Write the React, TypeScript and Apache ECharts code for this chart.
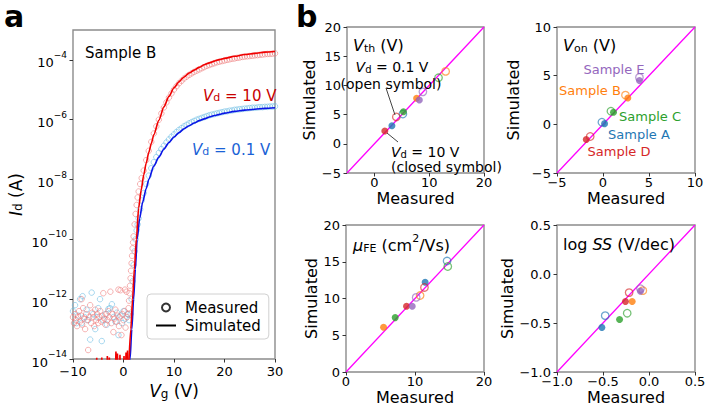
import React, { useEffect, useRef } from "react";
import * as echarts from "echarts";

const FONT = "DejaVu Sans";
const MINUS = "\u2212";

// ---------------- Panel a : transfer curves (Vg [V], log10 Id [A]) ----------------
const vgTicks = [-10, 0, 10, 20, 30];
const idTickExps = [-14, -12, -10, -8, -6, -4];

// simulated, Vd = 10 V
const simVd10: [number, number][] = [
  [1.1, -14], [1.45, -13], [1.8, -12], [2.15, -11], [2.55, -10], [3.0, -8.95], [3.5, -8.35],
  [4.0, -7.85], [4.5, -7.45], [5.0, -7.1], [5.5, -6.8], [6.0, -6.5], [7.0, -6.02], [8.0, -5.57],
  [9.0, -5.22], [10, -4.93], [11, -4.73], [12, -4.57], [13, -4.44], [14, -4.34], [15, -4.25],
  [16, -4.16], [17, -4.1], [18, -4.04], [19, -3.99], [20, -3.95], [22, -3.88], [24, -3.82],
  [26, -3.78], [28, -3.74], [30, -3.72],
];
// simulated, Vd = 10 V, numerical floor below the turn-on (spikes at the axis bottom)
const simVd10Floor: [number, number][] = [
  [-10, -14.5], [-5.4, -14.5], [-5.3, -13.96], [-5.2, -14.5], [-4.4, -14.5], [-4.3, -13.95],
  [-4.2, -14.5], [-3.3, -14.5], [-3.2, -13.9], [-3.1, -14.5], [-2.9, -14.5], [-2.8, -13.95],
  [-2.7, -14.5], [-1.6, -14.5], [-1.5, -13.75], [-1.4, -14.5], [-1.3, -14.5], [-1.2, -13.82],
  [-1.1, -14.5], [-0.8, -14.5], [-0.7, -13.86], [-0.6, -14.5], [0.0, -14.5], [0.1, -13.9],
  [0.2, -14.5], [0.4, -14.5], [0.5, -13.78], [0.6, -14.5], [0.7, -14.5], [0.8, -13.72],
  [0.9, -14.3], [1.1, -14],
];
// simulated, Vd = 0.1 V
const simVd01: [number, number][] = [
  [1.0, -14.5], [1.3, -14], [1.65, -13], [2.0, -12], [2.35, -11], [2.7, -10], [3.2, -9.3],
  [3.8, -8.75], [4.5, -8.3], [5.0, -8.0], [6.0, -7.55], [7.0, -7.25], [8.0, -6.98], [9.0, -6.76],
  [10, -6.58], [11, -6.43], [12, -6.3], [13, -6.2], [14, -6.11], [15, -6.03], [16, -5.97],
  [17, -5.91], [18, -5.86], [19, -5.82], [20, -5.78], [22, -5.72], [24, -5.68], [26, -5.65],
  [28, -5.62], [30, -5.6],
];
// measured, Vd = 10 V
const measVd10: [number, number][] = [
  [-10, -12.6], [-9.8, -12.8], [-9.6, -12.5], [-9.4, -12.7], [-9.2, -12.9], [-9.0, -12.6],
  [-8.8, -12.4], [-8.6, -12.75], [-8.4, -12.55], [-8.3, -12.0], [-8.2, -12.85], [-8.0, -12.3],
  [-7.8, -12.65], [-7.6, -13.0], [-7.4, -12.5], [-7.2, -12.7], [-7.0, -13.7], [-6.8, -12.6],
  [-6.6, -12.2], [-6.4, -12.8], [-6.2, -12.45], [-6.0, -12.6], [-5.8, -12.9], [-5.6, -12.35],
  [-5.4, -12.7], [-5.2, -12.5], [-5.0, -12.8], [-4.8, -12.6], [-4.6, -12.4], [-4.4, -12.75],
  [-4.2, -12.55], [-4.0, -11.8], [-3.8, -12.65], [-3.6, -12.85], [-3.4, -12.5], [-3.2, -12.7],
  [-3.0, -12.4], [-2.8, -12.6], [-2.6, -11.75], [-2.4, -12.8], [-2.2, -12.5], [-2.0, -13.1],
  [-1.8, -12.65], [-1.6, -12.35], [-1.4, -12.75], [-1.2, -12.55], [-1.0, -11.68], [-0.9, -12.9],
  [-0.8, -12.6], [-0.6, -11.7], [-0.4, -13.2], [-0.2, -12.5], [0.0, -12.7], [0.2, -12.4],
  [0.3, -11.68], [0.4, -12.95], [0.6, -11.75], [0.7, -12.6],
  [0.9, -12.5], [1.0, -12.3], [1.1, -12.05], [1.2, -11.8], [1.3, -11.55], [1.4, -11.3],
  [1.5, -11.05], [1.6, -10.8], [1.7, -10.55], [1.8, -10.3], [1.9, -10.1], [2.0, -9.9],
  [2.2, -9.5], [2.4, -9.15], [2.6, -8.85], [2.8, -8.6], [3.0, -8.4], [3.3, -8.15], [3.6, -7.95],
  [4.0, -7.7], [4.5, -7.35], [5.0, -7.04], [5.5, -6.74], [6.0, -6.46], [6.5, -6.22], [7.0, -6.0],
  [7.5, -5.79], [8.0, -5.59], [8.5, -5.42], [9.0, -5.26], [9.5, -5.12], [10, -4.99],
  [10.5, -4.88], [11, -4.78], [11.5, -4.7], [12, -4.62], [12.5, -4.56], [13, -4.5],
  [13.5, -4.45], [14, -4.4], [14.5, -4.36], [15, -4.32], [15.5, -4.28], [16, -4.24],
  [16.5, -4.2], [17, -4.17], [17.5, -4.14], [18, -4.11], [18.5, -4.08], [19, -4.06],
  [19.5, -4.04], [20, -4.02], [20.5, -4.0], [21, -3.98], [21.5, -3.96], [22, -3.95],
  [22.5, -3.93], [23, -3.92], [23.5, -3.9], [24, -3.89], [24.5, -3.88], [25, -3.87],
  [25.5, -3.86], [26, -3.85], [26.5, -3.84], [27, -3.83], [27.5, -3.82], [28, -3.81],
  [28.5, -3.8], [29, -3.8], [29.5, -3.79], [30, -3.78],
];
// measured, Vd = 0.1 V
const measVd01: [number, number][] = [
  [-10, -12.4], [-9.6, -12.2], [-9.3, -12.8], [-9.0, -12.55], [-8.6, -12.0], [-8.3, -12.8],
  [-8.1, -11.9], [-7.7, -12.6], [-7.3, -12.35], [-7.0, -12.7], [-6.6, -13.35], [-6.3, -11.78],
  [-6.0, -12.5], [-5.6, -13.0], [-5.3, -12.6], [-5.0, -12.3], [-4.65, -12.0], [-4.3, -13.4],
  [-4.0, -12.7], [-3.6, -12.5], [-3.3, -12.85], [-3.0, -12.33], [-2.7, -12.3], [-2.3, -12.17],
  [-2.0, -12.6], [-1.6, -12.75], [-1.3, -12.45], [-1.0, -13.2], [-0.6, -12.55], [-0.3, -12.8],
  [0.0, -12.4], [0.4, -12.65], [0.8, -12.5], [1.1, -12.7],
  [1.4, -12.5], [1.6, -12.0], [1.8, -11.4], [2.0, -10.85], [2.2, -10.4], [2.4, -10.0],
  [2.6, -9.7], [2.8, -9.5], [3.0, -9.3], [3.3, -9.0], [3.6, -8.7],
  [4.0, -8.45], [4.5, -8.15], [5.0, -7.87], [5.5, -7.62], [6.0, -7.42], [6.5, -7.25], [7.0, -7.11],
  [7.5, -6.98], [8.0, -6.87], [8.5, -6.76], [9.0, -6.66], [9.5, -6.57], [10, -6.49],
  [10.5, -6.41], [11, -6.34], [11.5, -6.28], [12, -6.22], [12.5, -6.17], [13, -6.12],
  [13.5, -6.08], [14, -6.04], [14.5, -6.0], [15, -5.97], [15.5, -5.94], [16, -5.91],
  [16.5, -5.88], [17, -5.85], [17.5, -5.83], [18, -5.81], [18.5, -5.79], [19, -5.77],
  [19.5, -5.75], [20, -5.73], [20.5, -5.72], [21, -5.7], [21.5, -5.69], [22, -5.67],
  [22.5, -5.66], [23, -5.65], [23.5, -5.64], [24, -5.63], [24.5, -5.62], [25, -5.61],
  [25.5, -5.6], [26, -5.6], [26.5, -5.59], [27, -5.58], [27.5, -5.58], [28, -5.57],
  [28.5, -5.57], [29, -5.56], [29.5, -5.56], [30, -5.55],
];

// ---------------- Panel b : measured vs simulated parameters ----------------
const samples = ["A", "B", "C", "D", "E"];
const sampleColors = ["#1f77b4", "#ff7f0e", "#2ca02c", "#d62728", "#9467bd"];

// Vth (V)
const vthMeas10 = [3.2, 7.7, 5.3, 1.9, 8.2];
const vthSim10 = [3.1, 7.8, 5.5, 2.2, 7.5];
const vthMeas01 = [5.2, 13.0, 11.7, 4.0, 8.85];
const vthSim01 = [5.1, 12.4, 11.3, 4.6, 8.9];
// Von (V)
const vonMeas10 = [0.17, 2.7, 1.14, -1.82, 3.96];
const vonSim10 = [0.07, 2.7, 1.25, -1.55, 4.5];
const vonMeas01 = [-0.12, 2.44, 0.86, -1.39, 3.96];
const vonSim01 = [0.22, 3.0, 1.35, -1.25, 4.82];
// mu_FE (cm2/Vs)
const muMeas10 = [11.47, 5.44, 7.13, 8.77, 9.6];
const muSim10 = [12.2, 6.1, 7.4, 8.95, 8.95];
const muMeas01 = [14.65, 10.74, 14.75, 11.37, 10.17];
const muSim01 = [15.1, 10.4, 14.35, 11.5, 10.15];
// log SS (V/dec)
const ssMeas10 = [-0.512, -0.183, -0.32, -0.256, -0.093];
const ssSim10 = [-0.545, -0.28, -0.465, -0.28, -0.175];
const ssMeas01 = [-0.476, -0.067, -0.237, -0.216, -0.093];
const ssSim01 = [-0.425, -0.17, -0.4, -0.19, -0.15];

const vthRange = [-5, 20];
const vonRange = [-5, 10];
const muRange = [0, 20];
const ssRange = [-1, 0.5];

// ---------------------------------------------------------------------------
const toPts = (arr: [number, number][]) => arr.map(([v, l]) => [v, Math.pow(10, l)]);

const rich = (F: number, color = "#000") => {
  const L = Math.round(F * 1.3);
  const S = Math.round(F * 0.7);
  const base = { fontFamily: FONT, color, fill: color };
  return {
    n: { ...base, fontSize: F, lineHeight: L, verticalAlign: "bottom" },
    i: { ...base, fontSize: F, lineHeight: L, fontStyle: "italic", verticalAlign: "bottom" },
    s: { ...base, fontSize: S, lineHeight: S, verticalAlign: "bottom" },
    p: { ...base, fontSize: S, lineHeight: S, verticalAlign: "top" },
  };
};

const fmtNum = (v: number, dec = 0) => {
  let s = dec > 0 ? v.toFixed(dec) : String(Math.round(v));
  if (Math.abs(v) < 1e-9) s = dec > 0 ? (0).toFixed(dec) : "0";
  return s.replace("-", MINUS);
};

const TICK = { show: true, length: 3.5, lineStyle: { color: "#333", width: 1 } };
const LABEL = { fontFamily: FONT, fontSize: 13, color: "#000" };
const NOLINE = { show: false, onZero: false };

function bAxes(gi: number, range: number[], interval: number, xCustom: number[] | null, yCustom: number[] | null, dec: number, yGap: number) {
  const common = {
    gridIndex: gi,
    type: "value",
    min: range[0],
    max: range[1],
    interval,
    axisLine: NOLINE,
    splitLine: { show: false },
    nameLocation: "middle",
  };
  const x: any = {
    ...common,
    name: "Measured",
    nameGap: 17,
    nameTextStyle: { fontFamily: FONT, fontSize: 16, lineHeight: 16, color: "#000" },
    axisTick: { ...TICK, ...(xCustom ? { customValues: xCustom } : {}) },
    axisLabel: { ...LABEL, margin: 3, lineHeight: 12, formatter: (v: number) => fmtNum(v, dec), ...(xCustom ? { customValues: xCustom } : {}) },
  };
  const y: any = {
    ...common,
    name: "Simulated",
    nameGap: yGap,
    nameTextStyle: { fontFamily: FONT, fontSize: 16, color: "#000" },
    axisTick: { ...TICK, ...(yCustom ? { customValues: yCustom } : {}) },
    axisLabel: { ...LABEL, margin: 6, lineHeight: 11, formatter: (v: number) => fmtNum(v, dec), ...(yCustom ? { customValues: yCustom } : {}) },
  };
  return { x, y };
}

function bSeries(gi: number, range: number[], m10: number[], s10: number[], m01: number[], s01: number[]) {
  const data: any[] = [];
  samples.forEach((_, k) => {
    data.push({ value: [m10[k], s10[k]], symbolSize: 7, itemStyle: { color: sampleColors[k] } });
    data.push({
      value: [m01[k], s01[k]],
      symbolSize: 7.5,
      itemStyle: { color: "rgba(0,0,0,0)", borderColor: sampleColors[k], borderWidth: 1.3, opacity: 0.65 },
    });
  });
  return [
    {
      type: "line",
      xAxisIndex: gi,
      yAxisIndex: gi,
      data: [[range[0], range[0]], [range[1], range[1]]],
      symbol: "none",
      lineStyle: { color: "#ff00ff", width: 1.3 },
      z: 2,
      silent: true,
    },
    { type: "scatter", xAxisIndex: gi, yAxisIndex: gi, symbol: "circle", data, z: 3, silent: true },
  ];
}

function txt(x: number, y: number, text: string, F: number, color = "#000", align = "left", extra: any = {}) {
  return {
    type: "text",
    x,
    y,
    z: 100,
    style: { text, rich: rich(F, color), fill: color, font: `${F}px '${FONT}'`, align, verticalAlign: "middle", ...extra },
  };
}

export default function App() {
  const ref = useRef<HTMLDivElement>(null);
  useEffect(() => {
    document.body.style.margin = "0";
    if (!ref.current) return;
    const chart = echarts.init(ref.current, undefined, { renderer: "svg" });

    const idTicks = idTickExps.map((e) => Math.pow(10, e));
    const grids = [
      { left: 73, top: 30, width: 202, height: 329 },
      { left: 347, top: 27, width: 137, height: 146 },
      { left: 557, top: 27, width: 138, height: 146 },
      { left: 346, top: 225, width: 138, height: 147 },
      { left: 557, top: 225, width: 138, height: 147 },
    ].map((g) => ({ ...g, show: true, borderColor: "#8c8c8c", borderWidth: 1.4, backgroundColor: "transparent", containLabel: false, outerBoundsMode: "none" }));

    const aX: any = {
      gridIndex: 0,
      type: "value",
      min: vgTicks[0],
      max: vgTicks[vgTicks.length - 1],
      interval: 10,
      axisLine: NOLINE,
      splitLine: { show: false },
      axisTick: TICK,
      axisLabel: { ...LABEL, margin: 6, formatter: (v: number) => fmtNum(v) },
      name: "{i|V}{s|g}{n| (V)}",
      nameLocation: "middle",
      nameGap: 14,
      nameTextStyle: { rich: rich(17) },
    };
    const aY: any = {
      gridIndex: 0,
      type: "log",
      logBase: 10,
      min: idTicks[0],
      max: 1e-3,
      axisLine: NOLINE,
      splitLine: { show: false },
      axisTick: { ...TICK, customValues: idTicks },
      axisLabel: {
        margin: 6,
        customValues: idTicks,
        formatter: (v: number) => {
          const e = Math.round(Math.log10(v));
          return `{b|10}{e|${e < 0 ? MINUS : ""}${Math.abs(e)}}`;
        },
        rich: {
          b: { fontFamily: FONT, fontSize: 13, lineHeight: 19, verticalAlign: "bottom", color: "#000" },
          e: { fontFamily: FONT, fontSize: 9, lineHeight: 9, verticalAlign: "top", color: "#000" },
        },
      },
      name: "{i|I}{s|d}{n| (A)}",
      nameLocation: "middle",
      nameGap: 49,
      nameTextStyle: { rich: rich(17) },
    };

    const ax1 = bAxes(1, vthRange, 5, [0, 10, 20], null, 0, 25);
    const ax2 = bAxes(2, vonRange, 5, null, null, 0, 36);
    const ax3 = bAxes(3, muRange, 5, [0, 10, 20], null, 0, 22);
    const ax4 = bAxes(4, ssRange, 0.5, null, null, 1, 36);

    const series: any[] = [
      {
        name: "meas01",
        type: "scatter",
        xAxisIndex: 0,
        yAxisIndex: 0,
        data: toPts(measVd01),
        symbol: "circle",
        symbolSize: 5.5,
        itemStyle: { color: "rgba(0,0,0,0)", borderColor: "rgba(110,190,228,0.75)", borderWidth: 1 },
        silent: true,
        z: 2,
      },
      {
        name: "meas10",
        type: "scatter",
        xAxisIndex: 0,
        yAxisIndex: 0,
        data: toPts(measVd10),
        symbol: "circle",
        symbolSize: 5.5,
        itemStyle: { color: "rgba(0,0,0,0)", borderColor: "rgba(238,120,120,0.7)", borderWidth: 1 },
        silent: true,
        z: 3,
      },
      {
        name: "sim01",
        type: "line",
        xAxisIndex: 0,
        yAxisIndex: 0,
        data: toPts(simVd01),
        symbol: "none",
        smooth: 0.25,
        smoothMonotone: "x",
        lineStyle: { color: "#0a14e6", width: 1.6 },
        silent: true,
        z: 4,
      },
      {
        name: "sim10floor",
        type: "line",
        xAxisIndex: 0,
        yAxisIndex: 0,
        data: toPts(simVd10Floor),
        symbol: "none",
        lineStyle: { color: "#f00000", width: 1.6 },
        silent: true,
        z: 4,
      },
      {
        name: "sim10",
        type: "line",
        xAxisIndex: 0,
        yAxisIndex: 0,
        data: toPts(simVd10),
        symbol: "none",
        smooth: 0.25,
        smoothMonotone: "x",
        lineStyle: { color: "#f00000", width: 1.6 },
        silent: true,
        z: 5,
      },
      {
        name: "Measured",
        type: "scatter",
        xAxisIndex: 0,
        yAxisIndex: 0,
        data: [],
        symbol: "circle",
        itemStyle: { color: "rgba(0,0,0,0)", borderColor: "#000", borderWidth: 1.5 },
      },
      {
        name: "Simulated",
        type: "line",
        xAxisIndex: 0,
        yAxisIndex: 0,
        data: [],
        symbol: "none",
        itemStyle: { color: "rgba(0,0,0,0)", borderColor: "rgba(0,0,0,0)", borderWidth: 0 },
        lineStyle: { color: "#000", width: 1.6 },
      },
      ...bSeries(1, vthRange, vthMeas10, vthSim10, vthMeas01, vthSim01),
      ...bSeries(2, vonRange, vonMeas10, vonSim10, vonMeas01, vonSim01),
      ...bSeries(3, muRange, muMeas10, muSim10, muMeas01, muSim01),
      ...bSeries(4, ssRange, ssMeas10, ssSim10, ssMeas01, ssSim01),
    ];

    const graphic: any[] = [
      { type: "text", x: 4, y: 16, z: 100, style: { text: "a", fill: "#000", font: `bold 30px '${FONT}'`, align: "left", verticalAlign: "middle" } },
      { type: "text", x: 296, y: 16, z: 100, style: { text: "b", fill: "#000", font: `bold 30px '${FONT}'`, align: "left", verticalAlign: "middle" } },
      txt(85, 50, "{n|Sample B}", 15),
      txt(203, 93, "{i|V}{s|d}{n| = 10 V}", 15, "#c80000"),
      txt(192, 147, "{i|V}{s|d}{n| = 0.1 V}", 15, "#1a62d6"),
      txt(353, 43, "{i|V}{s|th}{n| (V)}", 16),
      txt(563, 43, "{i|V}{s|on}{n| (V)}", 16),
      txt(353, 243, "{i|μ}{s|FE}{n| (cm}{p|2}{n|/Vs)}", 16),
      txt(563, 242, "{n|log }{i|SS}{n| (V/dec)}", 16),
      txt(392, 65, "{i|V}{s|d}{n| = 0.1 V}", 14, "#000", "center"),
      txt(391, 82, "{n|(open symbol)}", 14, "#000", "center"),
      txt(391, 150, "{i|V}{s|d}{n| = 10 V}", 14),
      txt(391, 165, "{n|(closed symbol)}", 14),
      { type: "line", z: 90, shape: { x1: 386, y1: 88, x2: 395, y2: 115 }, style: { stroke: "#444", lineWidth: 1 } },
      { type: "line", z: 90, shape: { x1: 387, y1: 133, x2: 398, y2: 142 }, style: { stroke: "#444", lineWidth: 1 } },
      txt(614, 67, "{n|Sample E}", 13, sampleColors[4], "center"),
      txt(590, 88, "{n|Sample B}", 13, sampleColors[1], "center"),
      txt(650, 114, "{n|Sample C}", 13, sampleColors[2], "center"),
      txt(639, 132, "{n|Sample A}", 13, sampleColors[0], "center"),
      txt(619, 149, "{n|Sample D}", 13, sampleColors[3], "center"),
    ];

    chart.setOption({
      animation: false,
      backgroundColor: "#fff",
      textStyle: { fontFamily: FONT },
      grid: grids,
      xAxis: [aX, ax1.x, ax2.x, ax3.x, ax4.x],
      yAxis: [aY, ax1.y, ax2.y, ax3.y, ax4.y],
      legend: {
        show: true,
        left: 147,
        top: 294,
        orient: "vertical",
        data: ["Measured", "Simulated"],
        itemWidth: 20,
        itemHeight: 8,
        itemGap: 3,
        padding: [6, 8, 6, 8],
        borderColor: "#d0d0d0",
        borderWidth: 1,
        borderRadius: 4,
        backgroundColor: "rgba(255,255,255,0.85)",
        selectedMode: false,
        textStyle: { fontFamily: FONT, fontSize: 15, color: "#000", padding: [0, 0, 0, 4] },
      },
      series,
      graphic,
    });
    return () => chart.dispose();
  }, []);
  return <div ref={ref} style={{ width: 710, height: 416 }} />;
}
